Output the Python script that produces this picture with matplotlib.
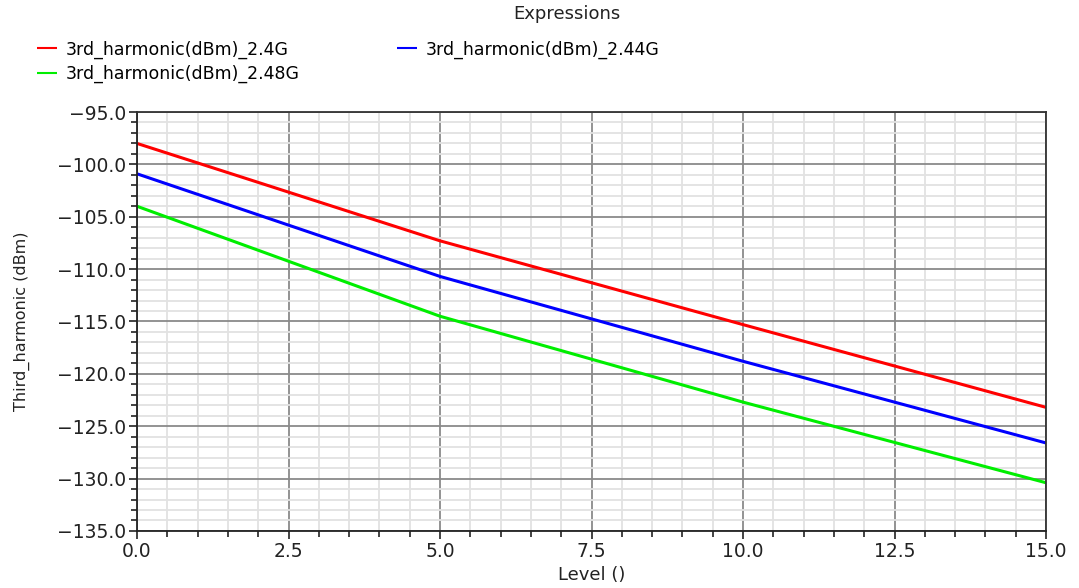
import numpy as np
import matplotlib
matplotlib.use("Agg")
import matplotlib.pyplot as plt
from matplotlib.ticker import MultipleLocator, FuncFormatter

# Level values and 3rd harmonic curves (dBm)
level = [0.0, 5.0, 10.0, 15.0]
h_24 = [-98.0, -107.3, -115.3, -123.2]
h_244 = [-100.9, -110.7, -118.8, -126.6]
h_248 = [-104.0, -114.5, -122.7, -130.4]
names = ['3rd_harmonic(dBm)_2.4G', '3rd_harmonic(dBm)_2.44G', '3rd_harmonic(dBm)_2.48G']
colors = ['#ff0000', '#0000ff', '#00ee00']

fig = plt.figure(figsize=(10.79, 5.88), dpi=100)
ax = fig.add_axes([0.127, 0.097, 0.8425, 0.7125])

lines = []
for ys, c, n in zip([h_24, h_244, h_248], colors, names):
    ln, = ax.plot(level, ys, color=c, lw=2.2, label=n, solid_capstyle='butt')
    lines.append(ln)

ax.set_xlim(0, 15)
ax.set_ylim(-135, -95)
ax.xaxis.set_major_locator(MultipleLocator(2.5))
ax.xaxis.set_minor_locator(MultipleLocator(0.5))
ax.yaxis.set_major_locator(MultipleLocator(5))
ax.yaxis.set_minor_locator(MultipleLocator(1))
fmt = FuncFormatter(lambda v, p: ('%.1f' % v).replace('-', '\u2212'))
ax.xaxis.set_major_formatter(fmt)
ax.yaxis.set_major_formatter(fmt)

ax.grid(which='minor', color='#e2e2e2', lw=1.3)
ax.grid(which='major', color='#8a8a8a', lw=1.3)
ax.set_axisbelow(True)
ax.tick_params(which='major', direction='out', length=6, width=1.2, labelsize=13.5,
               colors='#222222', pad=2)
ax.tick_params(which='minor', direction='out', length=4, width=1.2, colors='#222222')
for s in ['left', 'bottom']:
    ax.spines[s].set_color('#222222')
    ax.spines[s].set_linewidth(1.3)
for s in ['top', 'right']:
    ax.spines[s].set_color('#333333')
    ax.spines[s].set_linewidth(1.3)

ax.set_xlabel('Level ()', fontsize=13, color='#222222', va='center')
ax.set_ylabel('Third_harmonic (dBm)', fontsize=11.5, color='#222222', va='center')
ax.xaxis.set_label_coords(0.5, -0.105)
ax.yaxis.set_label_coords(-0.1265, 0.5)

fig.text(0.5255, 0.976, 'Expressions', ha='center', va='center', fontsize=13, color='#222222')
# matplotlib fills legend columns first, so reorder to get 2.4G, 2.44G on the first row
order = [0, 2, 1]
fig.legend(handles=[lines[i] for i in order], loc='upper left', bbox_to_anchor=(0.0343, 0.931),
           ncol=2, frameon=False, fontsize=12.5, handlelength=1.15, handletextpad=0.5,
           columnspacing=5.6, labelspacing=0.35, borderaxespad=0, borderpad=0)
for h in fig.legends[0].legend_handles:
    h.set_linewidth(1.5)

fig.savefig('out.png', dpi=100)
